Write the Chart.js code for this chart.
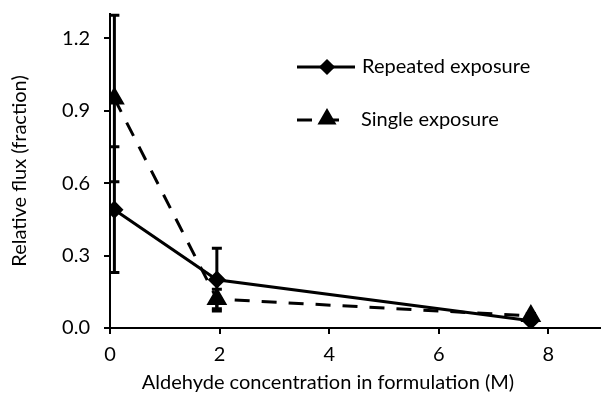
<!DOCTYPE html>
<html>
<head>
<meta charset="utf-8">
<script src="https://cdn.jsdelivr.net/npm/chart.js@4.4.0/dist/chart.umd.min.js"></script>
<style>
  html, body { margin: 0; padding: 0; background: #fff; }
  #wrap { width: 601px; height: 404px; }
</style>
</head>
<body>
<div id="wrap"><canvas id="chart" width="601" height="404"></canvas></div>
<script>
  // values
  const repeatedX = [0.08, 1.95, 7.68];
  const repeatedY = [0.49, 0.20, 0.03];
  const repeatedErr = [0.26, 0.13, 0.01];

  const singleX = [0.08, 1.95, 7.68];
  const singleY = [0.95, 0.12, 0.05];
  const singleErr = [0.345, 0.04, 0.01];

  const xTicks = [0, 2, 4, 6, 8];
  const yTicks = [0, 0.3, 0.6, 0.9, 1.2];

  const fontFamily = 'Lato, "Open Sans", sans-serif';
  const fontSize = 20;

  function toPoints(xs, ys) {
    return xs.map((x, i) => ({ x: x, y: ys[i] }));
  }

  const errorBars = {
    id: 'errorBars',
    beforeDatasetsDraw(chart) {
      const ctx = chart.ctx;
      const xs = chart.scales.x, ys = chart.scales.y;
      const sets = [[repeatedX, repeatedY, repeatedErr], [singleX, singleY, singleErr]];
      ctx.save();
      ctx.strokeStyle = '#000';
      ctx.lineWidth = 3;
      sets.forEach(([xv, yv, ev]) => {
        xv.forEach((x, i) => {
          const px = xs.getPixelForValue(x);
          const top = ys.getPixelForValue(yv[i] + ev[i]);
          const bot = ys.getPixelForValue(Math.max(0, yv[i] - ev[i]));
          ctx.beginPath();
          ctx.moveTo(px, top); ctx.lineTo(px, bot);
          ctx.moveTo(px - 5, top); ctx.lineTo(px + 5, top);
          ctx.moveTo(px - 5, bot); ctx.lineTo(px + 5, bot);
          ctx.stroke();
        });
      });
      ctx.restore();
    }
  };

  const labels = {
    id: 'labels',
    afterDraw(chart) {
      const ctx = chart.ctx;
      ctx.save();
      ctx.fillStyle = '#000';
      ctx.font = fontSize + 'px ' + fontFamily;
      ctx.textBaseline = 'middle';

      // axis titles
      ctx.textAlign = 'center';
      ctx.fillText('Aldehyde concentration in formulation (M)', 328, 383);
      ctx.save();
      ctx.translate(20, 171);
      ctx.rotate(-Math.PI / 2);
      ctx.fillText('Relative flux (fraction)', 0, 0);
      ctx.restore();

      // legend
      ctx.textAlign = 'left';
      ctx.strokeStyle = '#000';
      ctx.lineWidth = 3;
      ctx.beginPath();
      ctx.moveTo(297, 67); ctx.lineTo(355, 67);
      ctx.stroke();
      Chart.helpers.drawPoint(ctx, { pointStyle: 'rectRot', radius: 6, borderWidth: 1 }, 327, 67);
      ctx.fill();
      ctx.fillText('Repeated exposure', 362, 67);

      ctx.setLineDash([15, 12]);
      ctx.beginPath();
      ctx.moveTo(297, 120); ctx.lineTo(345, 120);
      ctx.stroke();
      ctx.setLineDash([]);
      Chart.helpers.drawPoint(ctx, { pointStyle: 'triangle', radius: 8, borderWidth: 1 }, 327, 119);
      ctx.fill();
      ctx.fillText('Single exposure', 361, 120);
      ctx.restore();
    }
  };

  new Chart(document.getElementById('chart'), {
    type: 'scatter',
    data: {
      datasets: [
        {
          label: 'Repeated exposure',
          data: toPoints(repeatedX, repeatedY),
          showLine: true,
          borderColor: '#000',
          backgroundColor: '#000',
          borderWidth: 3,
          pointStyle: 'rectRot',
          pointRadius: 7,
          pointHoverRadius: 7
        },
        {
          label: 'Single exposure',
          data: toPoints(singleX, singleY),
          showLine: true,
          borderColor: '#000',
          backgroundColor: '#000',
          borderWidth: 3,
          borderDash: [15, 12],
          pointStyle: 'triangle',
          pointRadius: 9,
          pointHoverRadius: 9
        }
      ]
    },
    options: {
      responsive: false,
      animation: false,
      devicePixelRatio: 1,
      layout: { autoPadding: false, padding: { top: 14, right: 0, left: 0, bottom: 0 } },
      plugins: {
        legend: { display: false },
        tooltip: { enabled: false }
      },
      scales: {
        x: {
          type: 'linear',
          min: 0,
          max: 8.96,
          afterFit: s => { s.height = 76; s.paddingLeft = 0; s.paddingRight = 0; },
          afterBuildTicks: s => { s.ticks = xTicks.map(v => ({ value: v })); },
          grid: { drawOnChartArea: false, color: '#000', lineWidth: 2, tickLength: 6 },
          border: { color: '#000', width: 2 },
          ticks: {
            color: '#000',
            padding: 9,
            font: { family: fontFamily, size: fontSize },
            callback: v => String(v)
          }
        },
        y: {
          min: 0,
          max: 1.3,
          afterFit: s => { s.width = 110; s.paddingTop = 0; s.paddingBottom = 0; },
          afterBuildTicks: s => { s.ticks = yTicks.map(v => ({ value: v })); },
          grid: { drawOnChartArea: false, color: '#000', lineWidth: 2, tickLength: 6 },
          border: { color: '#000', width: 2 },
          ticks: {
            color: '#000',
            padding: 14,
            font: { family: fontFamily, size: fontSize },
            callback: v => v.toFixed(1)
          }
        }
      }
    },
    plugins: [errorBars, labels]
  });
</script>
</body>
</html>
